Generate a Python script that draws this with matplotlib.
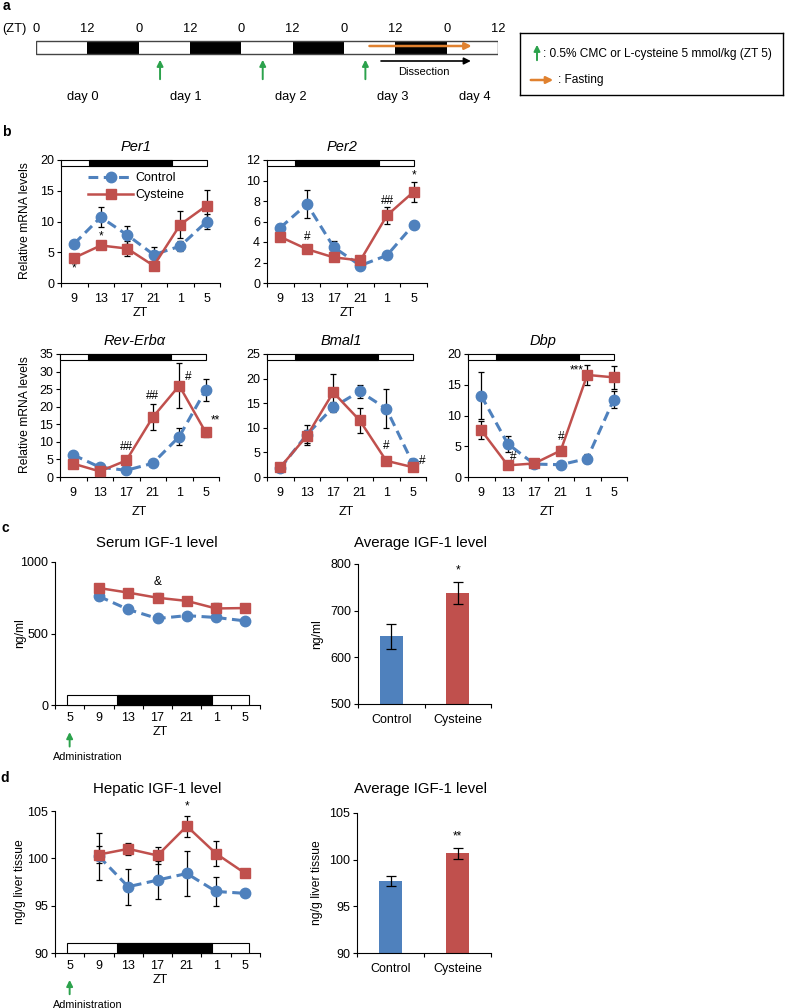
import numpy as np
import matplotlib
matplotlib.use('Agg')
import matplotlib.pyplot as plt
from matplotlib.patches import Rectangle

plt.rcParams['font.family'] = ['Liberation Sans', 'DejaVu Sans']
plt.rcParams['font.size'] = 9

BLUE = '#4F81BD'
RED = '#C0504D'
GREEN = '#2CA24C'
ORANGE = '#E0812F'

# ---- data ----
# panel a: feeding / dosing schedule (hours from ZT0 of day 0)
sched_hours = list(range(0, 109, 12))
dose_hours = [29, 53, 77]
fast_span = (77.3, 102.5)
dissect_span = (80, 102.3)
days = ['day 0', 'day 1', 'day 2', 'day 3', 'day 4']
day_hours = [11, 35, 59.5, 83.5, 102.5]

# panel b: clock gene expression
zt_b = ['9', '13', '17', '21', '1', '5']
per1_ctrl = [6.4, 10.7, 7.8, 4.6, 6.0, 10.0]
per1_ctrl_err = [0.3, 1.6, 1.5, 1.3, 0.8, 1.3]
per1_cys = [4.1, 6.1, 5.6, 2.8, 9.5, 12.6]
per1_cys_err = [0.3, 0.6, 1.2, 0.5, 2.2, 2.6]
per1_marks = [(0, 2.3, '*'), (1, 7.6, '*')]

per2_ctrl = [5.4, 7.7, 3.5, 1.7, 2.7, 5.7]
per2_ctrl_err = [0.4, 1.4, 0.6, 0.1, 0.1, 0.2]
per2_cys = [4.5, 3.3, 2.5, 2.2, 6.6, 8.9]
per2_cys_err = [0.2, 0.3, 0.2, 0.2, 0.8, 1.0]
per2_marks = [(1, 4.5, '#'), (4, 8.0, '##'), (5, 10.5, '*')]

rev_ctrl = [6.3, 2.8, 1.9, 3.9, 11.5, 24.8]
rev_ctrl_err = [0.5, 0.5, 0.5, 0.5, 2.5, 3.2]
rev_cys = [3.8, 1.6, 4.7, 17.0, 26.0, 12.7]
rev_cys_err = [0.4, 0.4, 0.8, 3.7, 6.5, 1.3]
rev_marks = [(2, 8.5, '##'), (3, 23.0, '##'), (4.35, 28.5, '#'), (5.35, 16.0, '**')]

bmal_ctrl = [1.8, 8.6, 14.2, 17.4, 13.9, 2.8]
bmal_ctrl_err = [0.3, 2.0, 1.0, 1.3, 4.0, 0.3]
bmal_cys = [2.0, 8.3, 17.2, 11.5, 3.3, 2.0]
bmal_cys_err = [0.3, 1.3, 3.8, 2.6, 0.5, 0.3]
bmal_marks = [(4, 6.3, '#'), (5.35, 3.3, '#')]

dbp_ctrl = [13.2, 5.4, 2.1, 2.0, 3.0, 12.6]
dbp_ctrl_err = [3.8, 1.3, 0.3, 0.3, 0.7, 1.4]
dbp_cys = [7.6, 1.9, 2.2, 4.3, 16.6, 16.2]
dbp_cys_err = [1.5, 0.3, 0.3, 0.7, 1.6, 1.9]
dbp_marks = [(1.2, 3.3, '#'), (3, 6.5, '#'), (3.6, 17.4, '***')]

# panels c, d: IGF-1
zt_cd = ['5', '9', '13', '17', '21', '1', '5']
serum_ctrl = [760, 668, 605, 625, 612, 588]
serum_ctrl_err = [25, 12, 12, 12, 12, 10]
serum_cys = [818, 786, 750, 728, 675, 678]
serum_cys_err = [25, 28, 30, 30, 35, 15]
serum_marks = [(3, 860, '&')]

hep_ctrl = [100.2, 97.0, 97.7, 98.4, 96.5, 96.3]
hep_ctrl_err = [2.5, 1.9, 2.0, 2.4, 1.5, 0.2]
hep_cys = [100.4, 101.0, 100.3, 103.4, 100.5, 98.4]
hep_cys_err = [0.9, 0.6, 0.9, 1.1, 1.3, 0.2]
hep_marks = [(4, 105.5, '*')]

groups = ['Control', 'Cysteine']
serum_avg = [645, 738]
serum_avg_err = [27, 24]
hep_avg = [97.7, 100.7]
hep_avg_err = [0.55, 0.6]

# light/dark bars in category units
b_span, b_dark = (-0.5, 5.0), (0.56, 3.7)
cd_span, cd_dark = (-0.1, 6.13), (1.6, 4.86)

W, H = 787, 1008
fig = plt.figure(figsize=(W / 100, H / 100), dpi=100)


def add_ax(l, t, r, b):
    return fig.add_axes([l / W, 1 - b / H, (r - l) / W, (b - t) / H])


def ftext(x, y, s, **kw):
    kw.setdefault('ha', 'center')
    kw.setdefault('va', 'center')
    fig.text(x / W, 1 - y / H, s, **kw)


def style(ax):
    for s in ['top', 'right']:
        ax.spines[s].set_visible(False)
    for s in ['left', 'bottom']:
        ax.spines[s].set_linewidth(0.8)
    ax.tick_params(axis='y', direction='out', length=3, width=0.8, pad=2, labelsize=9)


def cat_axis(ax, labels, pad=7):
    n = len(labels)
    ax.set_xlim(-0.5, n - 0.5)
    ax.set_xticks(range(n))
    ax.set_xticklabels(labels)
    ax.set_xticks(np.arange(-0.5, n), minor=True)
    ax.tick_params(axis='x', which='major', length=0, pad=pad, labelsize=9)
    ax.tick_params(axis='x', which='minor', length=3, width=0.8)


def light_dark(ax, span, dark, y0, h):
    tr = ax.get_xaxis_transform()
    ax.add_patch(Rectangle((span[0], y0), span[1] - span[0], h, transform=tr,
                           facecolor='white', edgecolor='black', lw=0.8, clip_on=False, zorder=6))
    ax.add_patch(Rectangle((dark[0], y0), dark[1] - dark[0], h, transform=tr,
                           facecolor='black', edgecolor='black', lw=0.8, clip_on=False, zorder=6))


def plot_pair(ax, x, c, ce, s, se, marks):
    ax.errorbar(x, c, yerr=ce, fmt='none', ecolor='black', elinewidth=0.9,
                capsize=2.5, capthick=0.9, zorder=2)
    ax.errorbar(x, s, yerr=se, fmt='none', ecolor='black', elinewidth=0.9,
                capsize=2.5, capthick=0.9, zorder=2)
    ax.plot(x, c, color=BLUE, lw=2.2, dashes=(3.2, 1.8), marker='o', ms=7.5,
            mec=BLUE, zorder=3, label='Control')
    ax.plot(x, s, color=RED, lw=1.8, marker='s', ms=7, mec=RED, zorder=4,
            label='Cysteine')
    for mx, my, txt in marks:
        ax.text(mx, my, txt, ha='center', va='center', fontsize=8.5, clip_on=False)


# ---- panel a ----
ftext(6, 6, 'a', weight='bold', fontsize=10)
ax_a = add_ax(36, 0, 498, 110)
ax_a.set_xlim(0, 108)
ax_a.set_ylim(110, 0)
ax_a.axis('off')
for i in range(len(sched_hours) - 1):
    ax_a.add_patch(Rectangle((sched_hours[i], 41), 12, 13,
                             facecolor='black' if i % 2 else 'white', edgecolor='none'))
ax_a.add_patch(Rectangle((0, 41), 108, 13, fill=False, edgecolor='#444444', lw=1))
for h in sched_hours:
    ax_a.text(h, 29, str(h % 24), ha='center', va='center', fontsize=9.3)
ftext(14, 29, '(ZT)', fontsize=9.3)
for h in dose_hours:
    ax_a.annotate('', xy=(h, 57), xytext=(h, 82),
                  arrowprops=dict(arrowstyle='-|>', color=GREEN, lw=1.4, mutation_scale=9))
ax_a.annotate('', xy=(fast_span[1], 46), xytext=(fast_span[0], 46),
              arrowprops=dict(arrowstyle='-|>', color=ORANGE, lw=1.8, mutation_scale=10))
ax_a.annotate('', xy=(dissect_span[1], 61), xytext=(dissect_span[0], 61),
              arrowprops=dict(arrowstyle='-|>', color='black', lw=1.2, mutation_scale=10))
ax_a.text(sum(dissect_span) / 2 - 0.5, 72, 'Dissection', ha='center', va='center', fontsize=8)
for d, h in zip(days, day_hours):
    ax_a.text(h, 97, d, ha='center', va='center', fontsize=9.3)

ax_leg = add_ax(520, 33, 783, 95)
ax_leg.set_xlim(0, 263)
ax_leg.set_ylim(62, 0)
ax_leg.set_xticks([])
ax_leg.set_yticks([])
for s in ax_leg.spines.values():
    s.set_linewidth(1)
ax_leg.annotate('', xy=(17, 9), xytext=(17, 30),
                arrowprops=dict(arrowstyle='-|>', color=GREEN, lw=1.4, mutation_scale=9))
ax_leg.text(23, 21, ': 0.5% CMC or L-cysteine 5 mmol/kg (ZT 5)', va='center', fontsize=8.6)
ax_leg.annotate('', xy=(36, 47), xytext=(8, 47),
                arrowprops=dict(arrowstyle='-|>', color=ORANGE, lw=1.8, mutation_scale=10))
ax_leg.text(38, 47.5, ': Fasting', va='center', fontsize=8.6)

# ---- panel b ----
ftext(6, 132, 'b', weight='bold', fontsize=10)
b_panels = [
    ('Per1', (61, 160, 220, 283), per1_ctrl, per1_ctrl_err, per1_cys, per1_cys_err,
     per1_marks, 20, 5, 313),
    ('Per2', (267, 160, 427, 283), per2_ctrl, per2_ctrl_err, per2_cys, per2_cys_err,
     per2_marks, 12, 2, 313),
    ('Rev-Erbα', (60, 354, 219, 477), rev_ctrl, rev_ctrl_err, rev_cys, rev_cys_err,
     rev_marks, 35, 5, 512),
    ('Bmal1', (267, 354, 426, 477), bmal_ctrl, bmal_ctrl_err, bmal_cys, bmal_cys_err,
     bmal_marks, 25, 5, 512),
    ('Dbp', (468, 354, 627, 477), dbp_ctrl, dbp_ctrl_err, dbp_cys, dbp_cys_err,
     dbp_marks, 20, 5, 512),
]
x_b = np.arange(len(zt_b))
for name, box, c, ce, s, se, marks, ymax, ystep, zt_y in b_panels:
    ax = add_ax(*box)
    style(ax)
    cat_axis(ax, zt_b)
    ax.set_ylim(0, ymax)
    ax.set_yticks(np.arange(0, ymax + 0.1, ystep))
    plot_pair(ax, x_b, c, ce, s, se, marks)
    light_dark(ax, b_span, b_dark, 0.952, 0.048)
    l, t, r, b = box
    ftext((l + r) / 2 - 5, t - 13, name, style='italic', fontsize=10.5)
    ftext((l + r) / 2, zt_y, 'ZT', fontsize=9)
    if name == 'Per1':
        ax.legend(loc='upper left', bbox_to_anchor=(0.17, 0.9), frameon=False,
                  handlelength=3.6, handletextpad=0.2, labelspacing=0.4,
                  borderaxespad=0, borderpad=0, fontsize=9)
ftext(25, 221, 'Relative mRNA levels', rotation=90, fontsize=8.7)
ftext(25, 415, 'Relative mRNA levels', rotation=90, fontsize=8.7)

# ---- panels c, d ----
x_cd = np.arange(1, len(zt_cd))
cd_panels = [
    ('c', 528, 'Serum IGF-1 level', 543, (55, 562, 260, 705), serum_ctrl, serum_ctrl_err,
     serum_cys, serum_cys_err, serum_marks, (0, 1000), [0, 500, 1000], 'ng/ml',
     (358, 564, 491, 704), serum_avg, serum_avg_err, (500, 800), [500, 600, 700, 800], 25),
    ('d', 778, 'Hepatic IGF-1 level', 789, (55, 811, 260, 953), hep_ctrl, hep_ctrl_err,
     hep_cys, hep_cys_err, hep_marks, (90, 105), [90, 95, 100, 105], 'ng/g liver tissue',
     (357, 813, 491, 953), hep_avg, hep_avg_err, (90, 105), [90, 95, 100, 105], 1.2),
]
for (letter, ly, title, title_y, box, c, ce, s, se, marks, ylim, yticks, ylab,
     box2, avg, avg_err, ylim2, yticks2, star_off) in cd_panels:
    ftext(5, ly, letter, weight='bold', fontsize=10)
    ax = add_ax(*box)
    style(ax)
    cat_axis(ax, zt_cd, pad=5)
    ax.set_ylim(*ylim)
    ax.set_yticks(yticks)
    plot_pair(ax, x_cd, c, ce, s, se, marks)
    light_dark(ax, cd_span, cd_dark, 0, 0.068)
    l, t, r, b = box
    ftext(157, title_y, title, fontsize=10.8)
    ftext(160, b + 27, 'ZT', fontsize=9)
    ftext(20, (t + b) / 2, ylab, rotation=90, fontsize=8.7)
    ax.annotate('', xy=(0, -0.17), xytext=(0, -0.31),
                xycoords=('data', 'axes fraction'),
                arrowprops=dict(arrowstyle='-|>', color=GREEN, lw=1.4, mutation_scale=9))
    ax.text(0.62, -0.365, 'Administration', transform=ax.get_xaxis_transform(),
            ha='center', va='center', fontsize=7.8, clip_on=False)

    ax2 = add_ax(*box2)
    style(ax2)
    ax2.set_xlim(-0.5, 1.5)
    ax2.set_xticks([0, 1])
    ax2.set_xticklabels(groups)
    ax2.set_xticks([-0.5, 0.5, 1.5], minor=True)
    ax2.tick_params(axis='x', which='major', length=0, pad=7, labelsize=9)
    ax2.tick_params(axis='x', which='minor', length=3, width=0.8)
    ax2.set_ylim(*ylim2)
    ax2.set_yticks(yticks2)
    ax2.bar([0, 1], np.array(avg) - ylim2[0], bottom=ylim2[0], width=0.34,
            color=[BLUE, RED], zorder=2)
    ax2.errorbar([0, 1], avg, yerr=avg_err, fmt='none', ecolor='black',
                 elinewidth=0.9, capsize=3.5, capthick=0.9, zorder=3)
    ax2.text(1, avg[1] + avg_err[1] + star_off, '*' if letter == 'c' else '**',
             ha='center', va='center', fontsize=8.5)
    l2, t2, r2, b2 = box2
    ftext(420, title_y, 'Average IGF-1 level', fontsize=10.8)
    ftext(317, (t2 + b2) / 2, ylab, rotation=90, fontsize=8.7)

fig.savefig('out.png', dpi=100)
